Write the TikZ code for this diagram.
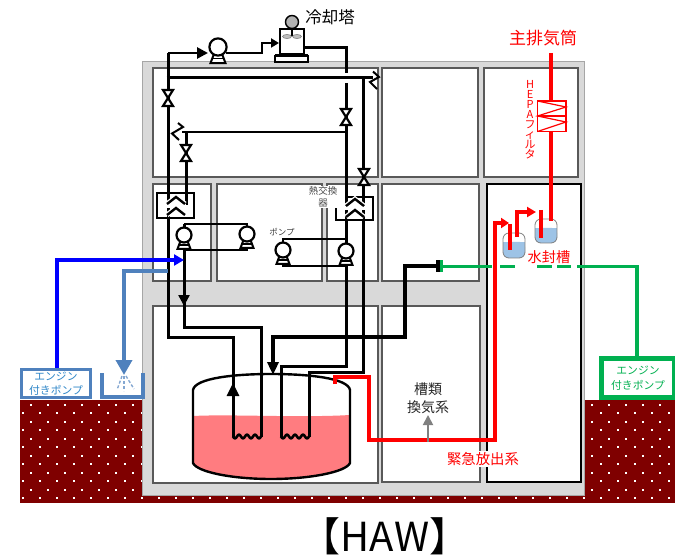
\documentclass[tikz,border=0pt]{standalone}
\usepackage{fontspec}
\setmainfont{Noto Sans CJK JP}
\usetikzlibrary{arrows.meta,calc}
\definecolor{bgray}{HTML}{D9D9D9}
\definecolor{bedge}{HTML}{A6A6A6}
\definecolor{redge}{HTML}{595959}
\definecolor{soil}{HTML}{7F0000}
\definecolor{steel}{HTML}{4F81BD}
\definecolor{gpipe}{HTML}{00B050}
\definecolor{liquid}{HTML}{FF7C80}
\definecolor{wseal}{HTML}{9DC3E6}
\definecolor{ptxt}{HTML}{2E86C8}
\tikzset{
 room/.style={draw=redge,fill=white,line width=1.1pt},
 pipe/.style={draw=black,line width=3pt,line join=miter},
 thinpipe/.style={draw=black,line width=2.7pt,line join=miter},
 thickpipe/.style={draw=black,line width=4.4pt,line join=miter},
 redpipe/.style={draw=red,line width=3.6pt,line join=miter},
 greenpipe/.style={draw=gpipe,line width=3.6pt,line join=miter},
 lbl/.style={inner sep=0pt,align=center},
 mask/.style={fill=white,inner sep=1pt,align=center},
}
\newcommand{\pumpsym}[3]{%
 \begin{scope}[shift={(#1,#2)},scale=#3]
  \draw[fill=white,line width=2pt] (-3.5,6) -- (3.5,6) -- (6.5,14) -- (-6.5,14) -- cycle;
  \draw[line width=1.4pt] (-5,10) -- (5,10);
  \draw[fill=white,line width=2.2pt] (0,0) circle (7.5);
 \end{scope}}
\newcommand{\valvesym}[2]{%
 \draw[fill=white,line width=2.2pt,line join=miter] (#1-5,#2-8) -- (#1+5,#2-8) -- (#1-5,#2+8) -- (#1+5,#2+8) -- cycle;}
\newcommand{\hxchev}[2]{%
 \draw[white,line width=5pt] (#1-9,#2+1) -- (#1,#2-6) -- (#1+9,#2+1);
 \draw[white,line width=5pt] (#1-9,#2+12) -- (#1,#2+5) -- (#1+9,#2+12);
 \fill[white] (#1-10,#2+1) rectangle (#1+10,#2+5);
 \draw[line width=2.4pt] (#1-9,#2+1) -- (#1,#2-6) -- (#1+9,#2+1);
 \draw[line width=2.4pt] (#1-9,#2+12) -- (#1,#2+5) -- (#1+9,#2+12);}
\begin{document}
\begin{tikzpicture}[x=1pt,y=-1pt]
\useasboundingbox (0,0) rectangle (675,556);
% ground
\fill[soil] (20,400) rectangle (675,503);
\foreach \r in {0,...,11}{
  \pgfmathsetmacro{\yy}{405+8.45*\r}
  \pgfmathsetmacro{\xo}{isodd(\r)?22.7:31}
  \foreach \c in {0,...,38}{
   \fill[white] ({\xo+17*\c-1},{\yy-1}) rectangle ({\xo+17*\c+1},{\yy+1});
  }}
% building
\draw[fill=bgray,draw=bedge,line width=1pt] (142.5,62) rectangle (584.5,495);
\draw[room] (153,68) rectangle (378,177);
\draw[room] (382,68) rectangle (478,177);
\draw[room] (484,68) rectangle (578,177);
\draw[room] (153,184) rectangle (211,281);
\draw[room] (217,184) rectangle (322,281);
\draw[room] (327,184) rectangle (378,281);
\draw[room] (382,184) rectangle (479,281);
\draw[room,draw=black] (487,184) rectangle (581,482);
\draw[room] (153,306) rectangle (378,483);
\draw[room] (382,306) rectangle (480,482);
% tank
\fill[white] (193,390) .. controls (195,378) and (235,374) .. (271,374) .. controls (308,374) and (348,378) .. (350,390) -- (350,463) -- (193,463) -- cycle;
\fill[liquid] (193,416) .. controls (230,414) and (300,418) .. (350,415) -- (350,463) .. controls (346,472) and (310,479) .. (271,479) .. controls (232,479) and (197,472) .. (193,463) -- cycle;
\draw[line width=2.4pt] (193,463) -- (193,390) .. controls (195,378) and (235,374) .. (271,374) .. controls (308,374) and (348,378) .. (350,390) -- (350,463) .. controls (346,472) and (310,479) .. (271,479) .. controls (232,479) and (197,472) .. (193,463) -- cycle;
% black pipes
\draw[pipe] (168,53) -- (168,337) -- (233,337) -- (233,437);
\draw[pipe] (184,224) -- (184,327) -- (261,327) -- (261,437);
\draw[thinpipe,-{Triangle[length=11pt,width=11pt]}] (168,53) -- (208,53);
\draw[thinpipe,-{Triangle[length=8pt,width=9pt]}] (226,53) -- (262,53) -- (262,43) -- (279,43);
\draw[pipe] (166.5,78) -- (373,78);
\draw[pipe] (305,48) -- (346,48) -- (346,73);
\draw[pipe] (346,83) -- (346,366) -- (281,366) -- (281,437);
\draw[pipe] (363.5,78) -- (363.5,372) -- (309,372) -- (309,437);
\draw[thinpipe] (182,132) -- (346,132);
\draw[pipe] (186,132) -- (186,205);
\draw[line width=2pt] (373,71.5) -- (379,77) -- (370,82) -- (377,89);
\draw[line width=2pt] (178,123) -- (183,127) -- (172,133.5) -- (179,140);
\draw[thinpipe] (184,224) -- (247,224) -- (247,230);
\draw[thinpipe] (247,240) -- (247,250) -- (184,250);
\draw[thinpipe] (283,250) -- (283,239) -- (346,239);
\draw[thinpipe] (283,258) -- (283,266) -- (346,266);
% coils
\draw[line width=2.6pt] plot[domain=233:261,samples=60] (\x,{436.5+1.8*sin(12.86*(\x-233)*3.5)});
\draw[line width=2.6pt] plot[domain=281:309,samples=60] (\x,{436.5+1.8*sin(12.86*(\x-281)*3.5)});
% mid-line arrows
\draw[line width=2.4pt,-{Triangle[length=11pt,width=11pt]}] (184,285) -- (184,306);
\draw[line width=3pt,-{Triangle[length=13pt,width=12pt]}] (233,405) -- (233,383);
\draw[thickpipe,-{Triangle[length=13pt,width=11pt]}] (405,266) -- (405,337) -- (273,337) -- (273,375);
\draw[thickpipe] (403,266) -- (437,266);
\fill[black] (436,260) rectangle (440,272);
\fill[gpipe] (440,260) rectangle (443,272);
% heat exchangers
\node[draw,line width=2.2pt,fill=none,minimum width=37pt,minimum height=25pt,inner sep=0pt] (hxL) at (175.5,205.5) {};
\hxchev{176}{203}
\draw[line width=2.2pt] (336,208) -- (336,220) -- (373,220) -- (373,197) -- (346,197);
\hxchev{355}{205}
% pumps
\pumpsym{218}{47}{1.15}
\pumpsym{184}{235}{1}
\pumpsym{247}{234}{1}
\pumpsym{283}{250}{1}
\pumpsym{346}{251}{1}
% valves
\valvesym{168}{98}
\valvesym{346}{117}
\valvesym{186}{153}
\valvesym{364}{177}
% cooling tower
\draw[fill=white,line width=2.4pt] (280,29) rectangle (304,54);
\draw[fill=white,line width=1.6pt] (275,56) rectangle (308,62);
\draw[line width=2.6pt] (275,55.5) -- (308,55.5);
\draw[line width=1.8pt] (292,28) -- (292,36);
\draw[fill=gray!50,draw=gray,line width=.6pt] (287,36.5) ellipse (4.5 and 2);
\draw[fill=gray!50,draw=gray,line width=.6pt] (297,36.5) ellipse (4.5 and 2);
\draw[fill=gray!60,line width=1.4pt] (292,22) circle (6.5);
% red
\draw[redpipe] (335,384) -- (335,377) -- (369,377) -- (369,440) -- (495,440) -- (495,223) -- (500,223);
\draw[redpipe] (551,53) -- (551,221);
\draw[draw=red,fill=white,line width=1.4pt] (537.5,101) rectangle (566,131.5);
\draw[draw=red,line width=1.4pt] (537.5,116) -- (566,116);
\draw[draw=red,line width=1.2pt] (537.5,101) -- (566,107) -- (537.5,116) -- (566,122) -- (537.5,131.5);
% green
\draw[greenpipe] (443,266.5) -- (492,266.5);
\draw[greenpipe] (500,266.5) -- (515,266.5);
\draw[greenpipe] (537,266.5) -- (552,266.5);
\draw[greenpipe] (557,266.5) -- (571,266.5);
\draw[greenpipe] (577,266.5) -- (637,266.5) -- (637,356);
% blue
\draw[blue,line width=3.6pt,line join=miter,-{Triangle[length=10pt,width=11pt]}] (57,368) -- (57,260) -- (184,260);
\draw[steel,line width=3.6pt,line join=miter,-{Triangle[length=15pt,width=16pt]}] (168,271) -- (124,271) -- (124,375);
\draw[steel,line width=4.4pt,line join=miter] (102,373) -- (102,397) -- (143,397) -- (143,373);
\draw[steel!70,line width=1.4pt,dash pattern=on 3pt off 2pt] (124,376) -- (124,391);
\draw[steel!70,line width=1.4pt,dash pattern=on 3pt off 2pt] (122,376) -- (117,390);
\draw[steel!70,line width=1.4pt,dash pattern=on 3pt off 2pt] (126,376) -- (134,389);
% engine pump boxes
\node[draw=steel,line width=3.4pt,fill=white,minimum width=69pt,minimum height=28pt,inner sep=0pt,lbl,text=ptxt,font=\fontsize{10.8}{13.5}\selectfont] (engL) at (56,383.5) {エンジン\\付きポンプ};
\node[draw=gpipe,line width=4.4pt,fill=white,minimum width=73pt,minimum height=39pt,inner sep=0pt,lbl,text=gpipe,font=\fontsize{10.8}{15}\selectfont] (engR) at (638,378) {エンジン\\付きポンプ};
% water seal tanks
\foreach \xa/\ya/\xb/\yb/\yl in {503/233/525/258/242,535/219/557/243/228}{
 \fill[white,rounded corners=6pt] (\xa,\ya) rectangle (\xb,\yb);
 \fill[wseal,rounded corners=5pt] (\xa,\yl) rectangle (\xb,\yb);
 \fill[wseal] (\xa,\yl) rectangle (\xb,\yl+6);
 \draw[gray,line width=.8pt,rounded corners=6pt] (\xa,\ya) rectangle (\xb,\yb);
}
\draw[redpipe,-{Triangle[length=8pt,width=10pt]}] (495,223) -- (509,223);
\draw[redpipe,line width=4pt] (510,224) -- (510,250);
\draw[redpipe,line width=4pt,-{Triangle[length=9pt,width=10pt]}] (517,237) -- (517,212) -- (536,212);
\draw[redpipe,line width=4pt] (541,210) -- (541,238);
\draw[redpipe] (551,215) -- (551,221);
% labels
\node[lbl] (tReiK) at (330,17) {\fontsize{16.5}{16}\selectfont 冷却塔};
\node[lbl,text=red] (tStack) at (543,38) {\fontsize{17}{17}\selectfont 主排気筒};
\node[lbl,text=red,font=\fontsize{11}{10}\selectfont] (tHepa) at (530,120) {H\\E\\P\\A\\フ\\ィ\\ル\\タ};
\node[lbl,text=red] (tSeal) at (549,257) {\fontsize{14.2}{14}\selectfont 水封槽};
\node[mask,text=red] (tEmg) at (483,459) {\fontsize{14.4}{14}\selectfont 緊急放出系};
\node[lbl,text=black!85,font=\fontsize{14}{18}\selectfont] (tVent) at (428,398) {槽類\\換気系};
\coordinate (ventArrow) at (428,442);
\draw[gray,line width=1.8pt,-{Triangle[length=10pt,width=10pt]}] (ventArrow) -- (428,415);
\node[mask,text=black!70,font=\fontsize{9.5}{12}\selectfont] (tHx) at (323,197) {熱交換\\器};
\node[lbl,text=black!75,font=\fontsize{8.5}{8}\selectfont] (tPump) at (282,232) {ポンプ};
\node[lbl,font=\fontsize{40}{40}\selectfont] (tTitle) at (385,536) {【HAW】};
\end{tikzpicture}
\end{document}
